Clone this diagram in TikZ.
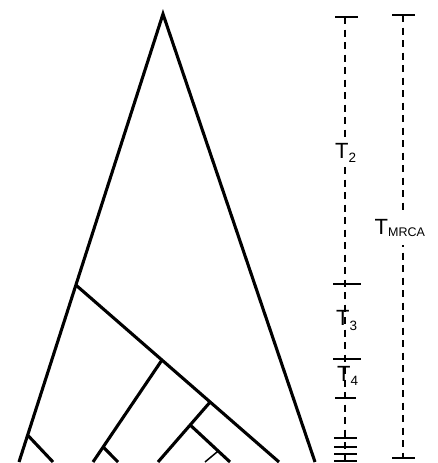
\documentclass[tikz,border=0pt]{standalone}
\usepackage{fontspec}
\setmainfont{Liberation Sans}
\usetikzlibrary{calc}
\begin{document}
\begin{tikzpicture}[x=1pt,y=-1pt,
  branch/.style={line width=3.1pt},
  twig/.style={line width=1.5pt},
  scaleline/.style={line width=1.2pt, dash pattern=on 7pt off 5.5pt},
  tick/.style={line width=2pt},
  lab/.style={anchor=base west, inner sep=0pt, font=\fontsize{22}{22}\selectfont}]
\useasboundingbox (0,0) rectangle (437,463);
% tree
\coordinate (R) at (163,14);
\coordinate (L) at (19,462);
\coordinate (Rr) at (315,462);
\coordinate (B1) at (279,462);
\coordinate (B2) at (93,462);
\coordinate (B3) at (158,462);
\coordinate (B4) at (230,462);
\coordinate (B5) at (205,462);
\coordinate (B6) at (53,462);
\coordinate (B7) at (118,462);
\coordinate (A) at ($(R)!0.605!(L)$);
\coordinate (C) at ($(A)!0.4237!(B1)$);
\coordinate (D) at ($(A)!0.661!(B1)$);
\coordinate (E) at ($(D)!0.383!(B3)$);
\coordinate (F) at ($(E)!0.703!(B4)$);
\coordinate (G) at ($(R)!0.94!(L)$);
\coordinate (H) at ($(C)!0.853!(B2)$);
\draw[branch, miter limit=20] (L) -- (R) -- (Rr);
\draw[branch] (A) -- (B1);
\draw[branch] (C) -- (B2);
\draw[branch] (D) -- (B3);
\draw[branch] (E) -- (B4);
\draw[twig] (F) -- (B5);
\draw[branch] (G) -- (B6);
\draw[branch] (H) -- (B7);
% scale of waiting times
\coordinate (s0) at (345,17);
\coordinate (s1) at (345,284);
\coordinate (s2) at (345,359);
\coordinate (s3) at (345,398);
\coordinate (s4) at (345,438);
\coordinate (s5) at (345,447);
\coordinate (s6) at (345,454);
\coordinate (s7) at (345,461);
\draw[scaleline] (s0) -- (s7);
\coordinate (m0) at (403,15);
\coordinate (m1) at (403,458);
\draw[scaleline] (m0) -- (m1);
\draw[tick] ([xshift=-10pt]s0) -- ([xshift=13pt]s0);
\draw[tick] ([xshift=-12pt]s1) -- ([xshift=16pt]s1);
\draw[tick] ([xshift=-12pt]s2) -- ([xshift=16pt]s2);
\draw[tick] ([xshift=-10pt]s3) -- ([xshift=11pt]s3);
\foreach \k in {4,5,6,7}{\draw[tick] ([xshift=-11pt]s\k) -- ([xshift=12pt]s\k);}
\draw[tick] ([xshift=-11pt]m0) -- ([xshift=12pt]m0);
\draw[tick] ([xshift=-11pt]m1) -- ([xshift=12pt]m1);
% labels
\node[lab, fill=white, inner ysep=3pt] (t2) at (335,158) {T\raisebox{-4pt}{\fontsize{13.5}{13.5}\selectfont 2}};
\node[lab] (t3) at (336,325) {T\raisebox{-5pt}{\fontsize{13.5}{13.5}\selectfont 3}};
\node[lab] (t4) at (337,381) {T\raisebox{-4pt}{\fontsize{13.5}{13.5}\selectfont 4}};
\node[lab, fill=white, inner ysep=9pt] (tm) at (374.5,234) {T\raisebox{-2pt}{\fontsize{12.5}{12.5}\selectfont MRCA}};
\end{tikzpicture}
\end{document}
